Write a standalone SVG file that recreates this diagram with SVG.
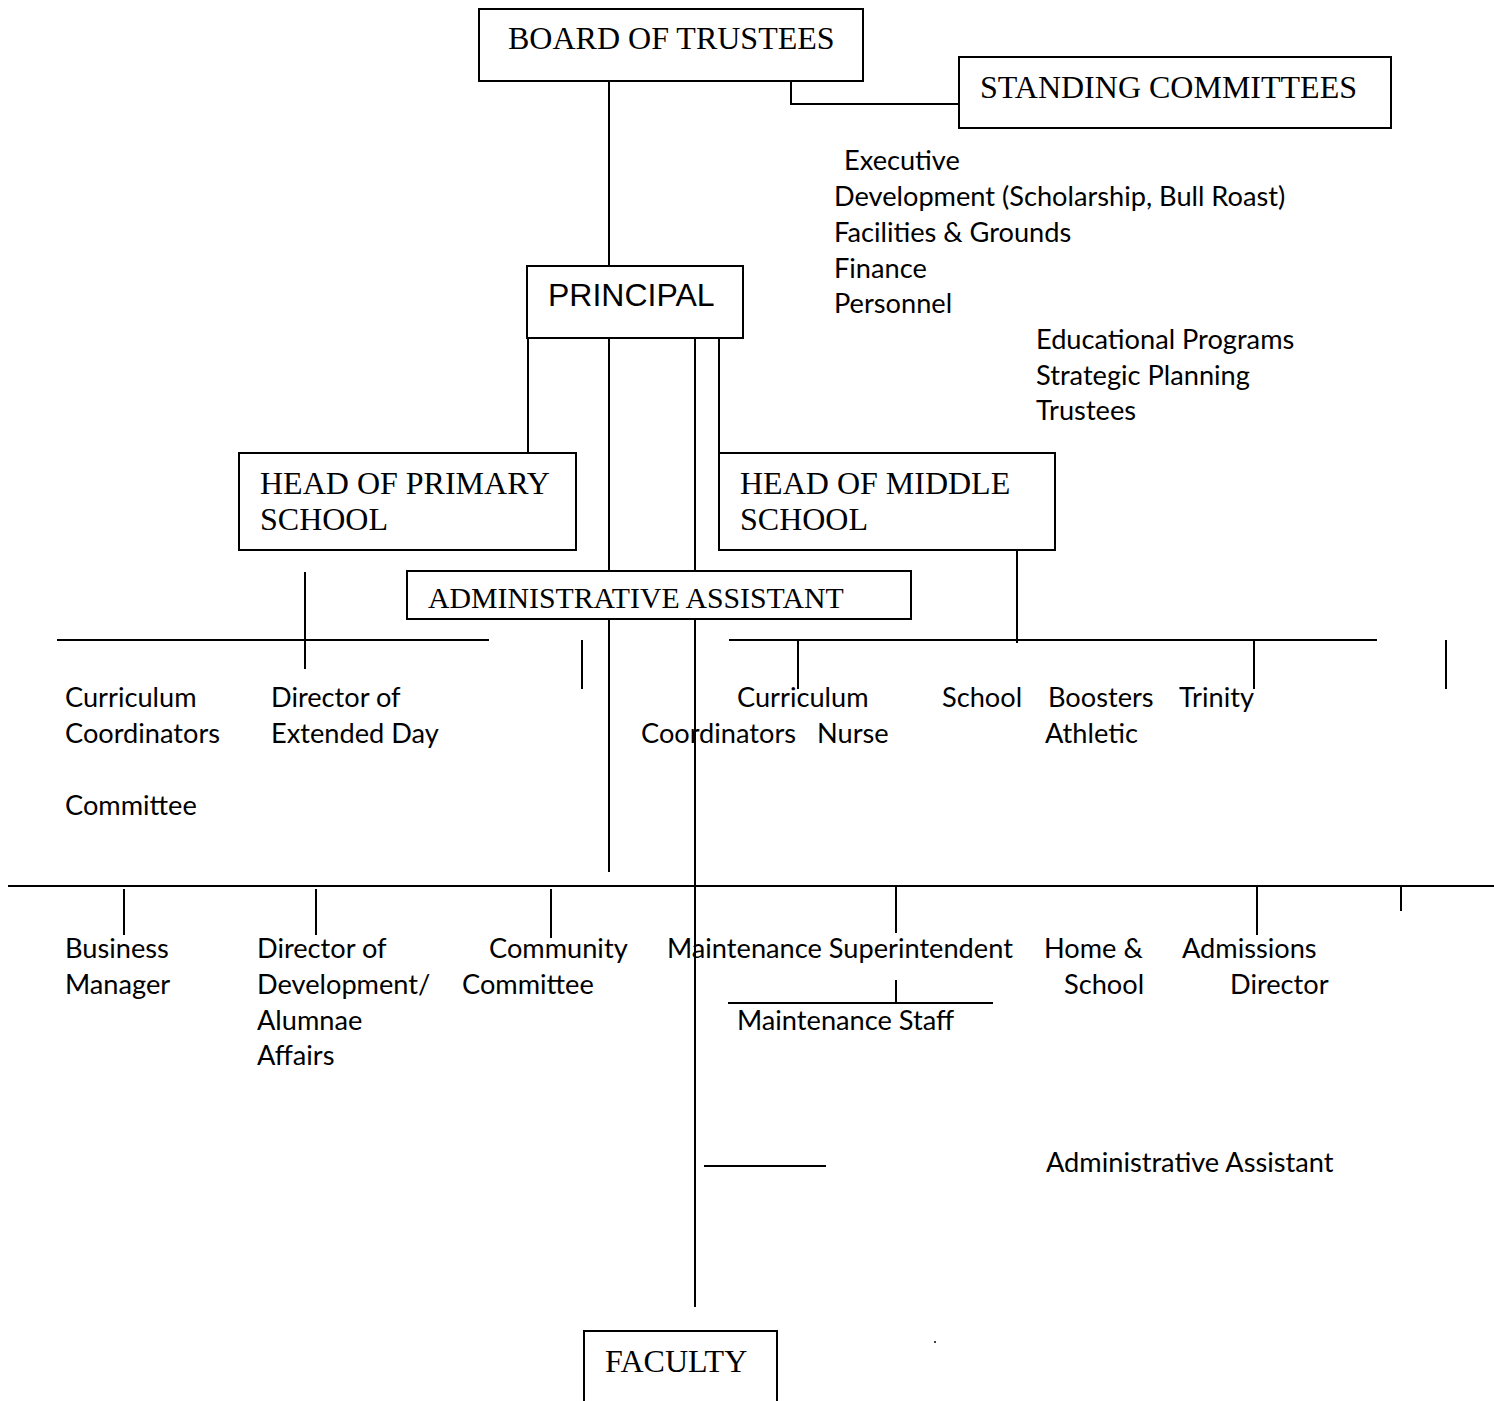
<svg xmlns="http://www.w3.org/2000/svg" width="1494" height="1401" viewBox="0 0 1494 1401">
<style>
.box{fill:#fff;stroke:#000;stroke-width:2}
.ln{stroke:#000;stroke-width:2;fill:none}
.tm{font-family:"Liberation Serif",serif;font-size:32px;fill:#000}
.ar{font-family:"Liberation Sans",sans-serif;font-size:32px;fill:#000}
.cb{font-family:Lato,"Open Sans",sans-serif;font-size:27.2px;fill:#000}
</style>
<rect width="1494" height="1401" fill="#fff"/>
<g id="connectors">
<line class="ln" x1="609" y1="81" x2="609" y2="266"/>
<polyline class="ln" points="791,81 791,104 959,104"/>
<line class="ln" x1="528" y1="338" x2="528" y2="453"/>
<line class="ln" x1="609" y1="338" x2="609" y2="571"/>
<line class="ln" x1="695" y1="338" x2="695" y2="571"/>
<line class="ln" x1="719" y1="338" x2="719" y2="453"/>
<line class="ln" x1="1017" y1="546" x2="1017" y2="643"/>
<line class="ln" x1="305" y1="572" x2="305" y2="669"/>
<line class="ln" x1="57" y1="640" x2="489" y2="640"/>
<line class="ln" x1="582" y1="640" x2="582" y2="689"/>
<line class="ln" x1="729" y1="640" x2="1377" y2="640"/>
<line class="ln" x1="798" y1="640" x2="798" y2="689"/>
<line class="ln" x1="1254" y1="640" x2="1254" y2="689"/>
<line class="ln" x1="1446" y1="640" x2="1446" y2="689"/>
<line class="ln" x1="609" y1="620" x2="609" y2="872"/>
<line class="ln" x1="695" y1="620" x2="695" y2="1307"/>
<line class="ln" x1="8" y1="886" x2="1494" y2="886"/>
<line class="ln" x1="124" y1="889" x2="124" y2="935"/>
<line class="ln" x1="316" y1="889" x2="316" y2="935"/>
<line class="ln" x1="551" y1="889" x2="551" y2="938"/>
<line class="ln" x1="896" y1="886" x2="896" y2="933"/>
<line class="ln" x1="1257" y1="886" x2="1257" y2="935"/>
<line class="ln" x1="1401" y1="886" x2="1401" y2="911"/>
<line class="ln" x1="896" y1="980" x2="896" y2="1003"/>
<line class="ln" x1="728" y1="1003" x2="993" y2="1003"/>
<line class="ln" x1="704" y1="1166" x2="826" y2="1166"/>
</g>
<g id="board">
<rect class="box" x="479" y="9" width="384" height="72"/>
<text class="tm" x="508" y="49">BOARD OF TRUSTEES</text>
</g>
<g id="standing">
<rect class="box" x="959" y="57" width="432" height="71"/>
<text class="tm" x="980" y="98">STANDING COMMITTEES</text>
</g>
<g id="committees-list">
<text class="cb" x="844" y="170">Executive</text>
<text class="cb" x="834" y="206">Development (Scholarship, Bull Roast)</text>
<text class="cb" x="834" y="242">Facilities &amp; Grounds</text>
<text class="cb" x="834" y="278">Finance</text>
<text class="cb" x="834" y="313">Personnel</text>
<text class="cb" x="1036" y="349">Educational Programs</text>
<text class="cb" x="1036" y="385">Strategic Planning</text>
<text class="cb" x="1036" y="420">Trustees</text>
</g>
<g id="principal">
<rect class="box" x="527" y="266" width="216" height="72"/>
<text class="ar" x="548" y="306">PRINCIPAL</text>
</g>
<g id="head-primary">
<rect class="box" x="239" y="453" width="337" height="97"/>
<text class="tm" x="260" y="494">HEAD OF PRIMARY</text>
<text class="tm" x="260" y="530">SCHOOL</text>
</g>
<g id="head-middle">
<rect class="box" x="719" y="453" width="336" height="97"/>
<text class="tm" x="740" y="494">HEAD OF MIDDLE</text>
<text class="tm" x="740" y="530">SCHOOL</text>
</g>
<g id="admin-assistant">
<rect class="box" x="407" y="571" width="504" height="48"/>
<text class="tm" x="428" y="608" style="font-size:29.8px">ADMINISTRATIVE ASSISTANT</text>
</g>
<g id="row1">
<text class="cb" x="65" y="707">Curriculum</text>
<text class="cb" x="65" y="743">Coordinators</text>
<text class="cb" x="65" y="815">Committee</text>
<text class="cb" x="271" y="707">Director of</text>
<text class="cb" x="271" y="743">Extended Day</text>
<text class="cb" x="737" y="707">Curriculum</text>
<text class="cb" x="641" y="743">Coordinators</text>
<text class="cb" x="817" y="743">Nurse</text>
<text class="cb" x="942" y="707">School</text>
<text class="cb" x="1048" y="707">Boosters</text>
<text class="cb" x="1045" y="743">Athletic</text>
<text class="cb" x="1179" y="707">Trinity</text>
</g>
<g id="row2">
<text class="cb" x="65" y="958">Business</text>
<text class="cb" x="65" y="994">Manager</text>
<text class="cb" x="257" y="958">Director of</text>
<text class="cb" x="257" y="994">Development/</text>
<text class="cb" x="257" y="1030">Alumnae</text>
<text class="cb" x="257" y="1065">Affairs</text>
<text class="cb" x="489" y="958">Community</text>
<text class="cb" x="462" y="994">Committee</text>
<text class="cb" x="667" y="958">Maintenance Superintendent</text>
<text class="cb" x="737" y="1030">Maintenance Staff</text>
<text class="cb" x="1044" y="958">Home &amp;</text>
<text class="cb" x="1064" y="994">School</text>
<text class="cb" x="1182" y="958">Admissions</text>
<text class="cb" x="1230" y="994">Director</text>
<text class="cb" x="1046" y="1172">Administrative Assistant</text>
</g>
<g id="faculty">
<path class="ln" d="M584,1401 V1331 H777 V1401"/>
<text class="tm" x="605" y="1372">FACULTY</text>
</g>
<circle cx="935" cy="1342" r="1" fill="#000"/>
</svg>
